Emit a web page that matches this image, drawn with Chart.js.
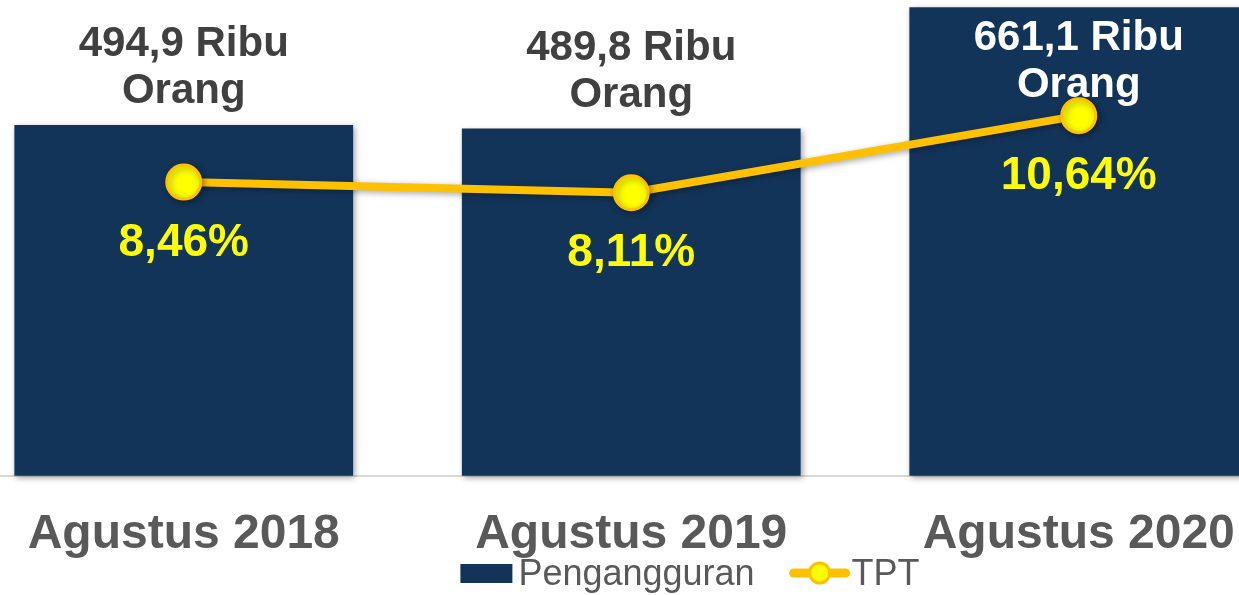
<!DOCTYPE html>
<html>
<head>
<meta charset="utf-8">
<script src="https://cdn.jsdelivr.net/npm/chart.js@4/dist/chart.umd.min.js"></script>
<style>
  html, body { margin: 0; padding: 0; background: #ffffff; overflow: hidden; width: 1239px; height: 595px; }
  #wrap { position: absolute; left: -60px; top: 0; width: 1500px; height: 595px; }
</style>
</head>
<body>
<div id="wrap"><canvas id="c" width="1500" height="595"></canvas></div>
<script>
const categories = ['Agustus 2018', 'Agustus 2019', 'Agustus 2020'];
const pengangguran = [494.9, 489.8, 661.1];
const tpt = [8.46, 8.11, 10.64];
const seriesNames = ['Pengangguran', 'TPT'];

const FONT = '"Liberation Sans", Arial, sans-serif';
const BAR_COLOR = '#133459';
const LINE_COLOR = '#FFC000';
const POINT_FILL = '#FFFF00';

function fmt(v, d) { return v.toFixed(d).replace('.', ','); }

const labelPlugin = {
  id: 'labels',
  beforeDatasetDraw(chart, args) {
    const ctx = chart.ctx;
    ctx.save();
    ctx.shadowColor = 'rgba(0,0,0,0.35)';
    ctx.shadowBlur = 6;
    ctx.shadowOffsetX = 2;
    ctx.shadowOffsetY = 2;
  },
  afterDatasetDraw(chart, args) {
    const ctx = chart.ctx;
    ctx.restore();
    if (args.index === 0) {
      const meta = chart.getDatasetMeta(0);
      ctx.save();
      ctx.font = 'bold 42px ' + FONT;
      ctx.textAlign = 'center';
      ctx.textBaseline = 'alphabetic';
      meta.data.forEach((el, i) => {
        let b1 = el.y - 69;
        let inside = false;
        if (b1 < 50) { b1 = 50; inside = true; }
        ctx.fillStyle = inside ? '#ffffff' : '#404040';
        ctx.fillText(fmt(pengangguran[i], 1) + ' Ribu', el.x, b1);
        ctx.fillText('Orang', el.x, b1 + 47);
      });
      ctx.restore();
    }
  },
  afterDatasetsDraw(chart) {
    const ctx = chart.ctx;
    const meta = chart.getDatasetMeta(1);
    ctx.save();
    ctx.font = 'bold 46px ' + FONT;
    ctx.textAlign = 'center';
    ctx.textBaseline = 'middle';
    ctx.fillStyle = '#FFFF00';
    meta.data.forEach((el, i) => {
      ctx.fillText(fmt(tpt[i], 2) + '%', el.x, el.y + 61);
    });
    ctx.restore();
  },
  afterDraw(chart) {
    const ctx = chart.ctx;
    ctx.save();
    ctx.font = '36px ' + FONT;
    const w1 = ctx.measureText(seriesNames[0]).width;
    const w2 = ctx.measureText(seriesNames[1]).width;
    const total = 52 + 6 + w1 + 35 + 60 + 2 + w2;
    let x = chart.width / 2 - total / 2;
    const base = 585;
    ctx.fillStyle = BAR_COLOR;
    ctx.fillRect(x, 564, 52, 19);
    x += 58;
    ctx.fillStyle = '#595959';
    ctx.textBaseline = 'alphabetic';
    ctx.textAlign = 'left';
    ctx.fillText(seriesNames[0], x, base);
    x += w1 + 35;
    ctx.strokeStyle = LINE_COLOR;
    ctx.lineWidth = 9;
    ctx.lineCap = 'round';
    ctx.beginPath();
    ctx.moveTo(x + 4, 573);
    ctx.lineTo(x + 56, 573);
    ctx.stroke();
    ctx.beginPath();
    ctx.arc(x + 30, 573, 10, 0, Math.PI * 2);
    ctx.fillStyle = POINT_FILL;
    ctx.fill();
    ctx.lineWidth = 3;
    ctx.stroke();
    x += 62;
    ctx.fillStyle = '#595959';
    ctx.fillText(seriesNames[1], x, base);
    ctx.restore();
  }
};

new Chart(document.getElementById('c'), {
  data: {
    labels: categories,
    datasets: [
      {
        type: 'bar',
        label: seriesNames[0],
        data: pengangguran,
        backgroundColor: BAR_COLOR,
        borderWidth: 0,
        yAxisID: 'y',
        order: 1,
        barPercentage: 0.757,
        categoryPercentage: 1.0,
        clip: false
      },
      {
        type: 'line',
        label: seriesNames[1],
        data: tpt,
        borderColor: LINE_COLOR,
        borderWidth: 8,
        backgroundColor: POINT_FILL,
        pointBackgroundColor: POINT_FILL,
        pointBorderColor: LINE_COLOR,
        pointBorderWidth: 3,
        pointRadius: 17,
        pointHoverRadius: 17,
        tension: 0,
        yAxisID: 'y1',
        order: 0,
        clip: false
      }
    ]
  },
  options: {
    responsive: false,
    animation: false,
    events: [],
    layout: { padding: { left: 0, right: 137.5, top: 0, bottom: 1.6 } },
    plugins: {
      legend: { display: false },
      tooltip: { enabled: false }
    },
    scales: {
      x: {
        offset: true,
        grid: { display: false, drawTicks: false },
        border: { display: true, color: '#d9d9d9', width: 2 },
        ticks: {
          color: '#595959',
          font: { family: FONT, size: 48, weight: 'bold' },
          padding: 30,
          maxRotation: 0,
          autoSkip: false
        },
        afterFit(scale) {
          scale.paddingLeft = 0;
          scale.paddingRight = 0;
        }
      },
      y: {
        display: false,
        min: 0,
        max: 643
      },
      y1: {
        display: false,
        position: 'right',
        min: -1.18,
        max: 13.78
      }
    }
  },
  plugins: [labelPlugin]
});
</script>
</body>
</html>
